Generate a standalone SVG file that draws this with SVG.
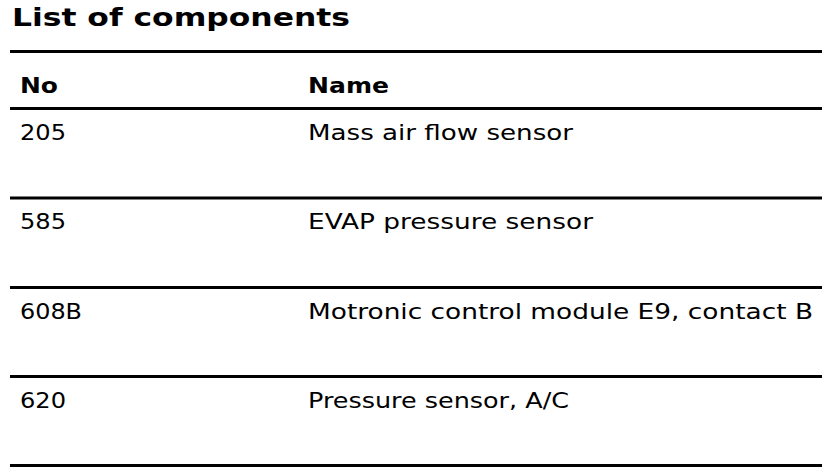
<svg xmlns="http://www.w3.org/2000/svg" width="832" height="474" viewBox="0 0 832 474">
<style>
.t{font-family:"DejaVu Sans","Liberation Sans",sans-serif;font-size:22px;fill:#000}
.h{font-family:"DejaVu Sans","Liberation Sans",sans-serif;font-weight:bold;font-size:22px;fill:#000}
.ti{font-family:"DejaVu Sans","Liberation Sans",sans-serif;font-weight:bold;font-size:25px;fill:#000}
.r{stroke:#000;stroke-width:3}
</style>
<rect width="832" height="474" fill="#fff"/>
<text class="ti" x="12" y="26" textLength="338" lengthAdjust="spacingAndGlyphs">List of components</text>
<g id="rules">
<line class="r" x1="10" y1="51.5" x2="822" y2="51.5"/>
<line class="r" x1="10" y1="108.5" x2="822" y2="108.5"/>
<line class="r" x1="10" y1="198" x2="822" y2="198"/>
<line class="r" x1="10" y1="287.5" x2="822" y2="287.5"/>
<line class="r" x1="10" y1="376.5" x2="822" y2="376.5"/>
<line class="r" x1="10" y1="465.5" x2="822" y2="465.5"/>
</g>
<g id="header">
<text class="h" x="20" y="93" textLength="38" lengthAdjust="spacingAndGlyphs">No</text>
<text class="h" x="308" y="93" textLength="81" lengthAdjust="spacingAndGlyphs">Name</text>
</g>
<g id="row205">
<text class="t" x="20" y="139.5" textLength="46" lengthAdjust="spacingAndGlyphs">205</text>
<text class="t" x="308" y="139.5" textLength="265" lengthAdjust="spacingAndGlyphs">Mass air flow sensor</text>
</g>
<g id="row585">
<text class="t" x="20" y="229" textLength="46" lengthAdjust="spacingAndGlyphs">585</text>
<text class="t" x="308" y="229" textLength="285" lengthAdjust="spacingAndGlyphs">EVAP pressure sensor</text>
</g>
<g id="row608B">
<text class="t" x="20" y="318.5" textLength="62" lengthAdjust="spacingAndGlyphs">608B</text>
<text class="t" x="308" y="318.5" textLength="505" lengthAdjust="spacingAndGlyphs">Motronic control module E9, contact B</text>
</g>
<g id="row620">
<text class="t" x="20" y="408" textLength="46" lengthAdjust="spacingAndGlyphs">620</text>
<text class="t" x="308" y="408" textLength="261" lengthAdjust="spacingAndGlyphs">Pressure sensor, A/C</text>
</g>
</svg>
